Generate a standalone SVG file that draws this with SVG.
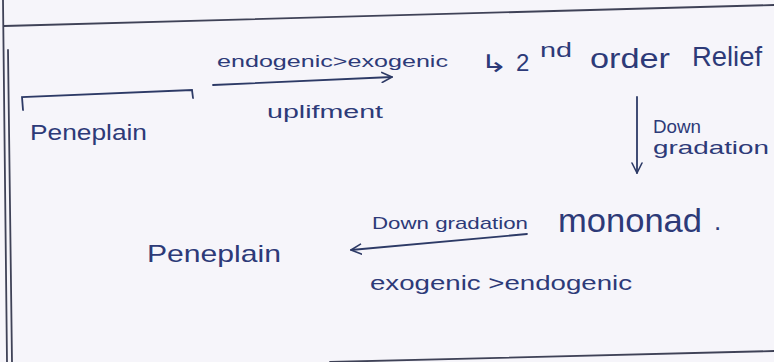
<svg xmlns="http://www.w3.org/2000/svg" width="774" height="362" viewBox="0 0 774 362">
  <style>
    .ink { fill: #2d3a78; font-family: "Liberation Sans", "DejaVu Sans", sans-serif; }
    .frame { fill: none; stroke: #3f4257; stroke-width: 1.8; stroke-linecap: round; }
    .conn { fill: none; stroke: #2d3a66; stroke-width: 1.8; stroke-linecap: round; }
  </style>
  <defs>
    <marker id="head" viewBox="0 0 12 12" refX="11" refY="6" markerWidth="12" markerHeight="12" markerUnits="userSpaceOnUse" orient="auto">
      <path d="M1,1 L11,6 L1,11" fill="none" stroke="#2d3a66" stroke-width="1.6" stroke-linecap="round" stroke-linejoin="round"/>
    </marker>
  </defs>
  <rect width="774" height="362" fill="#f6f5fa"/>
  <g id="frame">
    <path class="frame" d="M4,26 L774,5"/>
    <path class="frame" d="M3,0 L7,362"/>
    <path class="frame" d="M8,50 L12,362"/>
    <path class="frame" d="M330,362 Q560,356 774,351"/>
  </g>
  <g id="peneplain-top">
    <path class="conn" d="M23,110 L22,97 L192,90 L193,98"/>
    <text class="ink" x="30" y="140" font-size="22" textLength="117" lengthAdjust="spacingAndGlyphs">Peneplain</text>
  </g>
  <g id="relief">
    <text class="ink" x="480" y="72" font-size="24" textLength="28" lengthAdjust="spacingAndGlyphs">↳</text>
    <text class="ink" x="516" y="71" font-size="24">2</text>
    <text class="ink" x="540" y="57" font-size="20" textLength="32" lengthAdjust="spacingAndGlyphs">nd</text>
    <text class="ink" x="590" y="68" font-size="27" textLength="80" lengthAdjust="spacingAndGlyphs">order</text>
    <text class="ink" x="692" y="66" font-size="28" textLength="70" lengthAdjust="spacingAndGlyphs">Relief</text>
  </g>
  <g id="mononad">
    <text class="ink" x="558" y="232" font-size="33" textLength="144" lengthAdjust="spacingAndGlyphs">mononad</text>
    <text class="ink" x="714" y="230" font-size="26">.</text>
  </g>
  <g id="peneplain-bottom">
    <text class="ink" x="147" y="262" font-size="24" textLength="134" lengthAdjust="spacingAndGlyphs">Peneplain</text>
  </g>
  <g id="connectors">
    <line class="conn" x1="213" y1="85" x2="392" y2="77" marker-end="url(#head)"/>
    <text class="ink" x="217" y="67" font-size="17" textLength="231" lengthAdjust="spacingAndGlyphs">endogenic&gt;exogenic</text>
    <text class="ink" x="267" y="118" font-size="18" textLength="116" lengthAdjust="spacingAndGlyphs">uplifment</text>

    <line class="conn" x1="637" y1="97" x2="637" y2="173" marker-end="url(#head)"/>
    <text class="ink" x="653" y="133" font-size="19" textLength="48" lengthAdjust="spacingAndGlyphs">Down</text>
    <text class="ink" x="653" y="154" font-size="19" textLength="116" lengthAdjust="spacingAndGlyphs">gradation</text>

    <line class="conn" x1="527" y1="234" x2="351" y2="250" marker-end="url(#head)"/>
    <text class="ink" x="372" y="229" font-size="17" textLength="156" lengthAdjust="spacingAndGlyphs">Down gradation</text>
    <text class="ink" x="370" y="290" font-size="20" textLength="262" lengthAdjust="spacingAndGlyphs">exogenic &gt;endogenic</text>
  </g>
</svg>
